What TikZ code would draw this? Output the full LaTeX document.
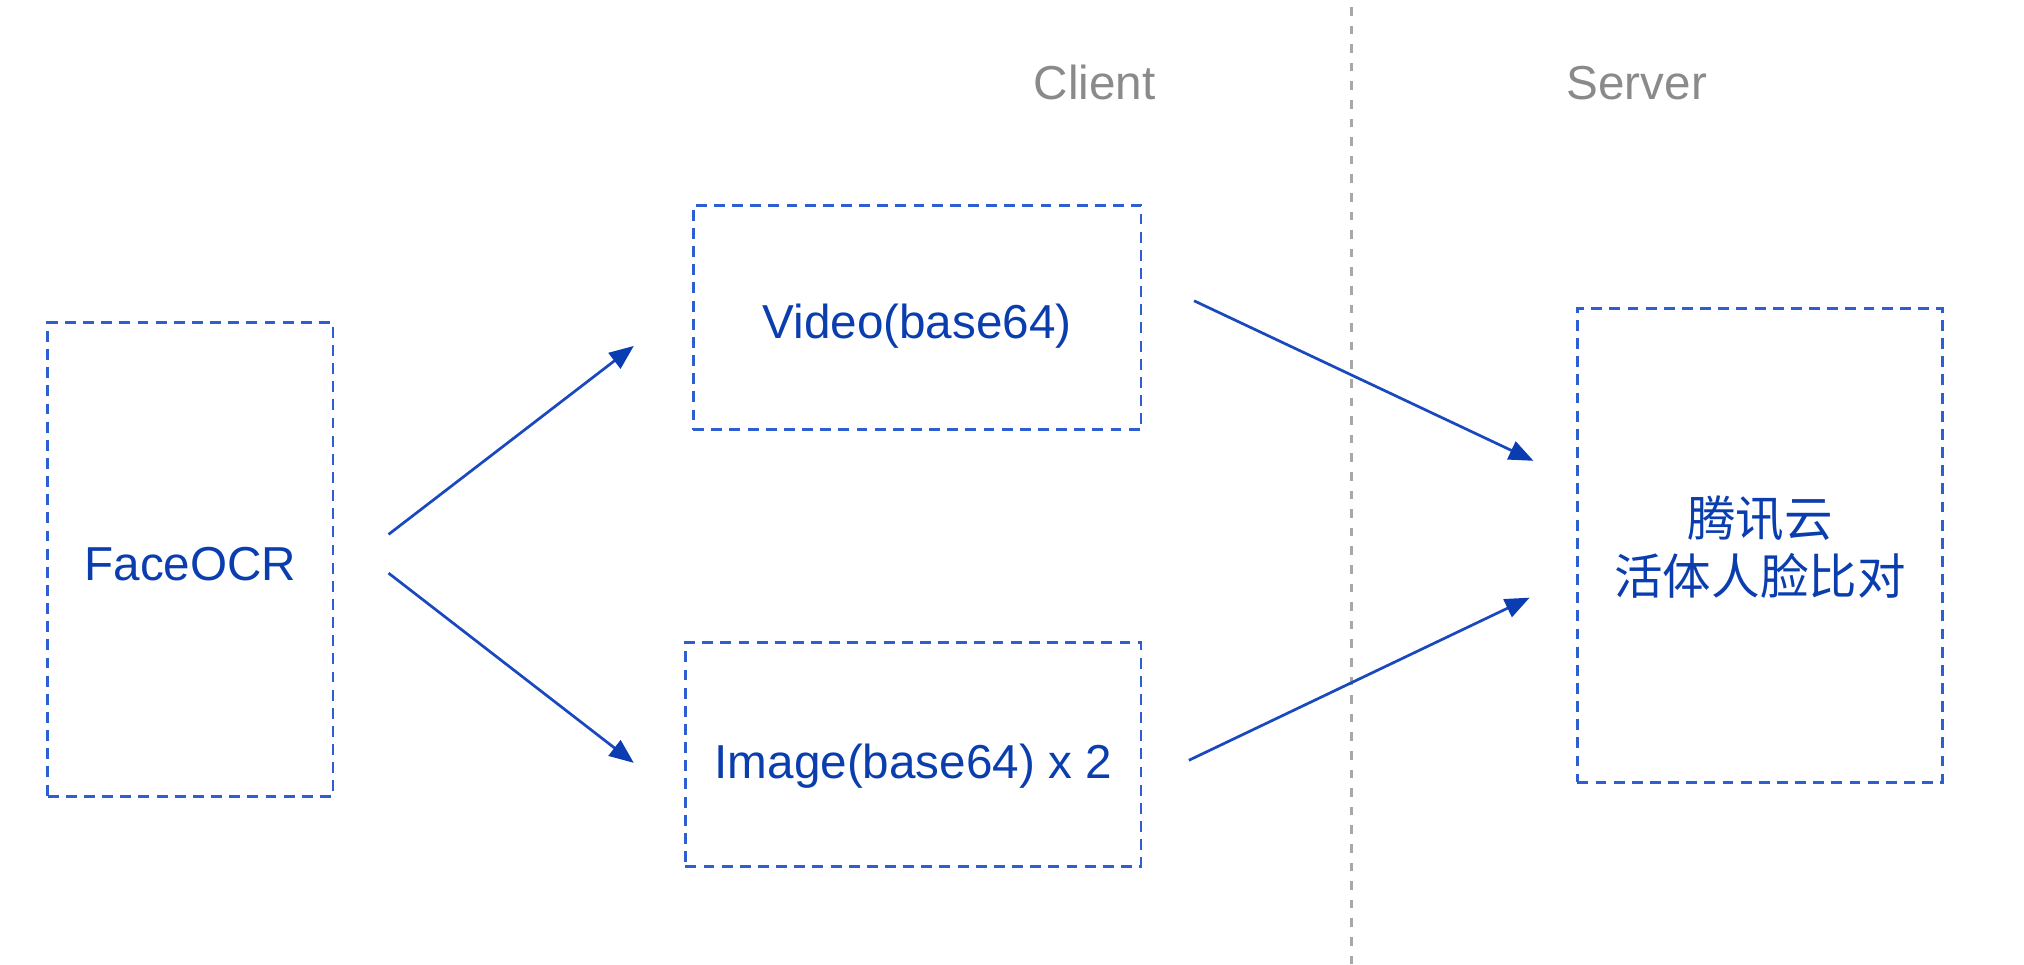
\documentclass[tikz,border=0pt]{standalone}
\usepackage{fontspec}
\setmainfont{Liberation Sans}
\newfontfamily\cjk{Noto Sans CJK SC}
\usetikzlibrary{arrows.meta}
\definecolor{txtblue}{HTML}{0A3DAE}
\definecolor{boxblue}{HTML}{2D5FD2}
\definecolor{arrblue}{HTML}{1A48BE}
\definecolor{headblue}{HTML}{0B3DB2}
\definecolor{lblgray}{HTML}{8A8A8A}
\definecolor{divgray}{HTML}{A8A8A8}
\newcommand{\lowered}[2]{\raisebox{-#1}[\height][\depth]{#2}}
\tikzset{
  dbox/.style={draw=boxblue, line width=0.6pt, dash pattern=on 2.4pt off 1.6pt,
    inner sep=0pt, align=center, text=txtblue, font=\fontsize{10.5}{12}\selectfont},
  conn/.style={draw=arrblue, line width=0.6pt, -{Triangle[length=5.4pt,width=4.3pt,color=headblue]}},
  sidelabel/.style={text=lblgray, font=\fontsize{10.5}{12}\selectfont},
}
\begin{document}
\begin{tikzpicture}
\useasboundingbox (0,0) rectangle (15.68,7.47);
\draw[divgray, line width=0.5pt, dash pattern=on 1.9pt off 2.2pt] (10.47,0) -- (10.47,7.47);
\node[sidelabel] (client) at (8.48,6.83) {Client};
\node[sidelabel] (server) at (12.68,6.83) {Server};
\node[dbox, minimum width=2.21cm, minimum height=3.67cm] (face) at (1.475,3.135) {\lowered{1.1pt}{FaceOCR}};
\node[dbox, minimum width=3.47cm, minimum height=1.74cm] (video) at (7.105,5.01) {\lowered{2pt}{Video(base64)}};
\node[dbox, minimum width=3.53cm, minimum height=1.73cm] (image) at (7.075,1.625) {\lowered{2.6pt}{Image(base64) x 2}};
\node[dbox, minimum width=2.83cm, minimum height=3.67cm] (tc) at (13.635,3.245)
  {\lowered{1.8pt}{\fontsize{10.7}{12.6}\selectfont\begin{tabular}{@{}c@{}}\cjk 腾讯云\\\cjk 活体人脸比对\end{tabular}}};
\coordinate (a1s) at (3.01,3.33);
\coordinate (a1e) at (4.91,4.79);
\coordinate (a2s) at (3.01,3.03);
\coordinate (a2e) at (4.91,1.56);
\coordinate (a3s) at (9.25,5.14);
\coordinate (a3e) at (11.88,3.90);
\coordinate (a4s) at (9.21,1.58);
\coordinate (a4e) at (11.85,2.84);
\draw[conn] (a1s) -- (a1e);
\draw[conn] (a2s) -- (a2e);
\draw[conn] (a3s) -- (a3e);
\draw[conn] (a4s) -- (a4e);
\end{tikzpicture}
\end{document}
